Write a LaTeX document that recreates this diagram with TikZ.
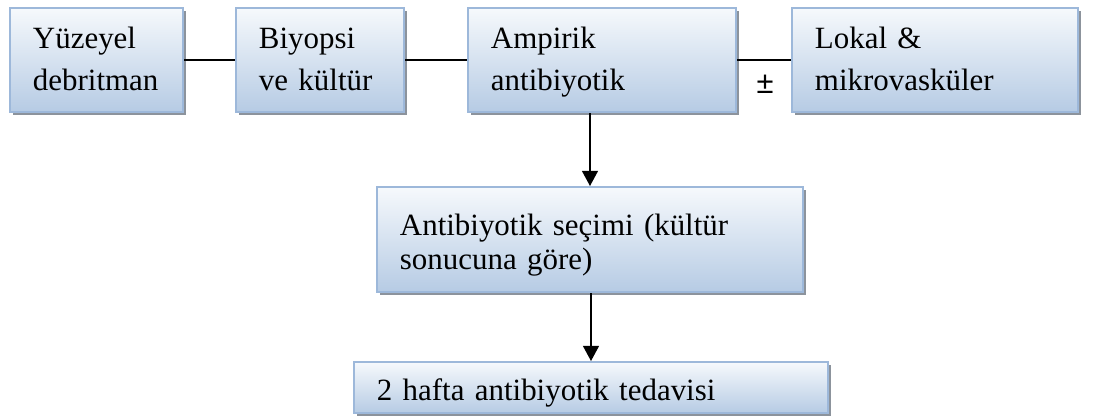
\documentclass[tikz,border=0pt]{standalone}
\usepackage{fontspec}
\setmainfont{Liberation Serif}
\newfontfamily\symfont{Liberation Sans}
\definecolor{boxEdge}{HTML}{9DB8DA}
\definecolor{boxTop}{HTML}{F6F9FC}
\definecolor{boxBottom}{HTML}{B6CBE4}
\definecolor{boxShadow}{HTML}{8C939C}
\usetikzlibrary{arrows.meta,shadows}

\tikzset{
  flowbox/.style={draw=boxEdge, line width=1.4pt, top color=boxTop, bottom color=boxBottom,
    drop shadow={shadow xshift=0.07cm, shadow yshift=-0.07cm, fill=boxShadow, opacity=1},
    inner xsep=0.575cm, inner ysep=0pt, align=left, text=black,
    text height=1cm, text depth=1.6cm,
    font=\fontsize{22}{29.9}\selectfont},
  link/.style={line width=1.1pt, black},
  flowarrow/.style={link, -{Triangle[length=0.38cm, width=0.4cm]}}
}

\begin{document}
\begin{tikzpicture}[x=0.025cm, y=-0.025cm]
  \useasboundingbox (0,0) rectangle (1101,417);
  % top row
  \node[flowbox, text width=3.175cm] (debrit) at (96.5,60) {Yüzeyel\\debritman};
  \node[flowbox, text width=3.05cm] (biopsy) at (320,60) {Biyopsi\\ve kültür};
  \node[flowbox, text width=5.55cm] (empiric) at (602,60) {Ampirik\\antibiyotik};
  \node[flowbox, text width=6.0cm] (local) at (935,60) {Lokal \&\\mikrovasküler};
  % lower column
  \node[flowbox, text width=9.5cm, text height=1.2cm, text depth=1.425cm,
    font=\fontsize{22}{24.5}\selectfont] (choice) at (590,239.5) {Antibiyotik seçimi (kültür\\sonucuna göre)};
  \node[flowbox, text width=10.7cm, text height=0.95cm, text depth=0.325cm] (therapy) at (591,387.5) {2 hafta antibiyotik tedavisi};
  \node[font=\symfont\fontsize{22}{26}\selectfont, inner sep=0pt] (pm) at (765,84) {±};
  % connectors
  \draw[link] (debrit) -- (biopsy);
  \draw[link] (biopsy) -- (empiric);
  \draw[link] (empiric) -- (local);
  \draw[flowarrow] (empiric.south -| choice.north) -- (choice.north);
  \draw[flowarrow] (choice.south -| therapy.north) -- (therapy.north);
\end{tikzpicture}
\end{document}
